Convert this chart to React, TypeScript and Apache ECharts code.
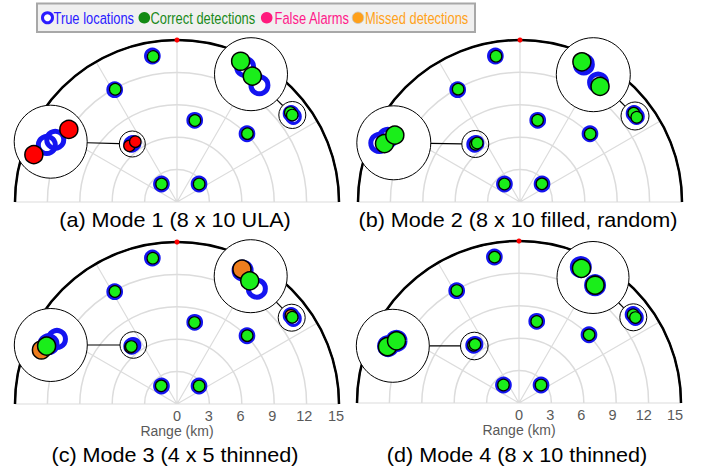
import React, { useEffect, useRef } from 'react';
import * as echarts from 'echarts';

// ---------------- DATA ----------------
const PANEL_TITLES = [
  '(a) Mode 1 (8 x 10 ULA)',
  '(b) Mode 2 (8 x 10 filled, random)',
  '(c) Mode 3 (4 x 5 thinned)',
  '(d) Mode 4 (8 x 10 thinned)',
];
const LEGEND_NAMES = ['True locations', 'Correct detections', 'False Alarms', 'Missed detections'];
const RANGE_TICKS = [0, 3, 6, 9, 12, 15];
const RANGE_MAX = 15;
const AZIMUTH_MIN = -90;
const AZIMUTH_MAX = 90;
const AZIMUTH_STEP = 30;
// reference mark at 0 deg azimuth on the outer ring [range km, azimuth deg]
const BORESIGHT_MARK = [[15, 0]];

// positions are [cross-range km, down-range km]
const TRUE_LOCATIONS = [
  [-2.28, 13.52], [-5.77, 10.40], [1.64, 7.56], [6.48, 6.32], [-1.44, 1.67], [2.04, 1.67],
  [-4.20, 5.35], [-4.07, 5.43], [10.56, 8.19], [10.78, 7.91],
];
const CORRECT_MODE1 = [
  [-2.21, 13.48], [-5.72, 10.44], [1.66, 7.55], [6.52, 6.33], [-1.43, 1.66], [2.05, 1.66],
  [10.49, 8.28], [10.67, 8.05],
];
const FALSE_ALARMS_MODE1 = [[-4.40, 5.20], [-3.86, 5.59]];
const CORRECT_MODE2 = [
  [-2.22, 13.50], [-5.73, 10.45], [1.63, 7.57], [6.50, 6.30], [-1.44, 1.66], [2.03, 1.68],
  [-4.12, 5.34], [-3.96, 5.47], [10.53, 8.23], [10.81, 7.85],
];
const CORRECT_MODE3 = [
  [-2.24, 13.50], [-5.75, 10.42], [1.62, 7.54], [6.50, 6.33], [-1.46, 1.68], [2.05, 1.66],
  [-4.23, 5.32], [10.67, 8.03],
];
const MISSED_MODE3 = [[-4.31, 5.26], [10.55, 8.21]];
const CORRECT_MODE4 = [
  [-2.26, 13.51], [-5.76, 10.41], [1.64, 7.55], [6.49, 6.31], [-1.44, 1.67], [2.04, 1.66],
  [-4.21, 5.34], [-4.07, 5.43], [10.57, 8.17], [10.78, 7.91],
];

const MODE_CORRECT = [CORRECT_MODE1, CORRECT_MODE2, CORRECT_MODE3, CORRECT_MODE4];
const MODE_FALSE = [FALSE_ALARMS_MODE1, [], [], []];
const MODE_MISSED = [[], [], MISSED_MODE3, []];

// ---------------- LAYOUT / STYLE ----------------
const POLAR_RADIUS_PX = 162;
const INSET_PX_PER_KM = 64.8;
const LAYOUT = [
  {
    cx: 177, cy: 202, titleY: 220, rangeHalfPx: 0,
    insets: [
      { bx: 50.7, by: 141.7, R: 36.5, sx: 132.3, sy: 144, r: 13, kmX: -4.14, kmY: 5.4 },
      { bx: 251, by: 74.2, R: 36.5, sx: 292.3, sy: 115, r: 13.5, kmX: 10.65, kmY: 8.08 },
    ],
  },
  {
    cx: 520, cy: 202, titleY: 220, rangeHalfPx: 0,
    insets: [
      { bx: 393.8, by: 142.8, R: 37, sx: 475.3, sy: 144, r: 13.5, kmX: -3.976, kmY: 5.352 },
      { bx: 593.3, by: 74.7, R: 37, sx: 635, sy: 116, r: 14, kmX: 10.706, kmY: 8.031 },
    ],
  },
  {
    cx: 177, cy: 404, titleY: 455, rangeHalfPx: 159,
    insets: [
      { bx: 50.8, by: 345, R: 36.5, sx: 133.3, sy: 345, r: 13.3, kmX: -4.165, kmY: 5.337 },
      { bx: 250.7, by: 276.2, R: 36.5, sx: 291.7, sy: 317.7, r: 13.5, kmX: 10.685, kmY: 8.102 },
    ],
  },
  {
    cx: 519, cy: 403, titleY: 455, rangeHalfPx: 156,
    insets: [
      { bx: 392.8, by: 345.8, R: 36.5, sx: 474.3, sy: 346, r: 13.8, kmX: -4.127, kmY: 5.354 },
      { bx: 593, by: 277.5, R: 36, sx: 633.3, sy: 317.3, r: 13.5, kmX: 10.748, kmY: 8.029 },
    ],
  },
];

const LEGEND_BOX = { x: 37, y: 3.5, w: 438, h: 28.5 };
const LEGEND_ITEMS = [
  { icon: 47.5, text: 53.5, fill: '#fff', stroke: '#2a1bff', lw: 3, color: '#2a1bff' },
  { icon: 144.3, text: 150.5, fill: '#138a13', stroke: 'none', lw: 0, color: '#1a8a1a' },
  { icon: 266.7, text: 274.5, fill: '#ff1a7d', stroke: 'none', lw: 0, color: '#ff1a8a' },
  { icon: 358, text: 365, fill: '#ffa01a', stroke: '#c8c8c8', lw: 0.8, color: '#ffa21a' },
];

const C_BLUE = '#1414f0';
const C_GREEN = '#1aee1a';
const C_RED = '#ff0000';
const C_ORANGE = '#ee7d1e';
const FONT = "'Liberation Sans', Arial, sans-serif";

const toPolar = (p: number[]) => {
  const r = Math.hypot(p[0], p[1]);
  const az = (Math.atan2(p[0], p[1]) * 180) / Math.PI;
  return [r, az];
};

function buildOption() {
  const polar: any[] = [];
  const angleAxis: any[] = [];
  const radiusAxis: any[] = [];
  const grid: any[] = [];
  const xAxis: any[] = [];
  const yAxis: any[] = [];
  const series: any[] = [];
  const graphic: any[] = [];

  LAYOUT.forEach((p, i) => {
    polar.push({ center: [p.cx, p.cy], radius: POLAR_RADIUS_PX });
    angleAxis.push({
      polarIndex: i, type: 'value', min: AZIMUTH_MIN, max: AZIMUTH_MAX, interval: AZIMUTH_STEP,
      startAngle: 180, endAngle: 0, clockwise: true,
      axisLine: { show: true, lineStyle: { color: '#000', width: 2.5 } },
      axisTick: { show: false }, axisLabel: { show: false },
      splitLine: { show: true, lineStyle: { color: '#dcdcdc', width: 1.2 } },
    });
    radiusAxis.push({
      polarIndex: i, type: 'value', min: 0, max: RANGE_MAX, interval: 3,
      axisLine: { show: false }, axisTick: { show: false }, axisLabel: { show: false },
      splitLine: { show: true, lineStyle: { color: ['#dcdcdc', '#dcdcdc', '#dcdcdc', '#dcdcdc', '#dcdcdc', '#000'], width: 1.5 } },
    });

    // main polar series
    series.push({
      name: LEGEND_NAMES[0], type: 'scatter', coordinateSystem: 'polar', polarIndex: i,
      data: TRUE_LOCATIONS.map(toPolar), symbolSize: 13.7,
      itemStyle: { color: 'rgba(255,255,255,0)', borderColor: C_BLUE, borderWidth: 3, opacity: 1 },
      silent: true,
    });
    if (MODE_MISSED[i].length) series.push({
      name: LEGEND_NAMES[3], type: 'scatter', coordinateSystem: 'polar', polarIndex: i,
      data: MODE_MISSED[i].map(toPolar), symbolSize: 11.5,
      itemStyle: { color: C_ORANGE, borderColor: '#000', borderWidth: 1.2, opacity: 1 }, silent: true,
    });
    if (MODE_FALSE[i].length) series.push({
      name: LEGEND_NAMES[2], type: 'scatter', coordinateSystem: 'polar', polarIndex: i,
      data: MODE_FALSE[i].map(toPolar), symbolSize: 11.5,
      itemStyle: { color: C_RED, borderColor: '#000', borderWidth: 1.2, opacity: 1 }, silent: true,
    });
    series.push({
      name: LEGEND_NAMES[1], type: 'scatter', coordinateSystem: 'polar', polarIndex: i,
      data: MODE_CORRECT[i].map(toPolar), symbolSize: 11.5,
      itemStyle: { color: C_GREEN, borderColor: '#000', borderWidth: 1.2, opacity: 1 }, silent: true,
    });
    series.push({
      name: 'boresight', type: 'scatter', coordinateSystem: 'polar', polarIndex: i,
      data: BORESIGHT_MARK, symbolSize: 5, itemStyle: { color: '#ff0000', opacity: 1 }, silent: true, z: 5,
    });

    // range labels
    if (p.rangeHalfPx) {
      const gi = grid.length;
      grid.push({ left: p.cx - p.rangeHalfPx, top: p.cy - 1, width: 2 * p.rangeHalfPx, height: 1 });
      xAxis.push({
        gridIndex: gi, type: 'value', min: -RANGE_MAX, max: RANGE_MAX, interval: 3,
        axisLine: { show: false }, axisTick: { show: false }, splitLine: { show: false },
        axisLabel: {
          margin: 4, color: '#595959', fontSize: 14.5, fontFamily: FONT,
          formatter: (v: number) => (RANGE_TICKS.indexOf(v) >= 0 ? String(v) : ''),
        },
        name: 'Range (km)', nameLocation: 'middle', nameGap: 19,
        nameTextStyle: { color: '#595959', fontSize: 14, fontFamily: FONT },
      });
      yAxis.push({ gridIndex: gi, type: 'value', show: false });
    }

    // title
    graphic.push({
      type: 'text', x: p.cx - 2, y: p.titleY, z: 30, scaleX: 1.08,
      style: {
        x: 0, y: 0, text: PANEL_TITLES[i], fill: '#000', fontSize: 20, fontFamily: FONT,
        align: 'center', verticalAlign: 'middle', textAlign: 'center', textVerticalAlign: 'middle',
      },
    });

    // insets
    p.insets.forEach((ins) => {
      const half = ins.R / INSET_PX_PER_KM;
      const gi = grid.length;
      grid.push({ left: ins.bx - ins.R, top: ins.by - ins.R, width: 2 * ins.R, height: 2 * ins.R });
      xAxis.push({ gridIndex: gi, type: 'value', min: ins.kmX - half, max: ins.kmX + half, show: false });
      yAxis.push({ gridIndex: gi, type: 'value', min: ins.kmY - half, max: ins.kmY + half, show: false });
      series.push({
        name: LEGEND_NAMES[0], type: 'scatter', xAxisIndex: gi, yAxisIndex: gi, z: 20,
        data: TRUE_LOCATIONS, symbolSize: 17,
        itemStyle: { color: 'rgba(255,255,255,0)', borderColor: C_BLUE, borderWidth: 5, opacity: 1 }, silent: true,
      });
      if (MODE_MISSED[i].length) series.push({
        name: LEGEND_NAMES[3], type: 'scatter', xAxisIndex: gi, yAxisIndex: gi, z: 20,
        data: MODE_MISSED[i], symbolSize: 18,
        itemStyle: { color: C_ORANGE, borderColor: '#000', borderWidth: 1.5, opacity: 1 }, silent: true,
      });
      if (MODE_FALSE[i].length) series.push({
        name: LEGEND_NAMES[2], type: 'scatter', xAxisIndex: gi, yAxisIndex: gi, z: 20,
        data: MODE_FALSE[i], symbolSize: 18,
        itemStyle: { color: C_RED, borderColor: '#000', borderWidth: 1.5, opacity: 1 }, silent: true,
      });
      series.push({
        name: LEGEND_NAMES[1], type: 'scatter', xAxisIndex: gi, yAxisIndex: gi, z: 20,
        data: MODE_CORRECT[i], symbolSize: 18,
        itemStyle: { color: C_GREEN, borderColor: '#000', borderWidth: 1.5, opacity: 1 }, silent: true,
      });

      const dx = ins.sx - ins.bx;
      const dy = ins.sy - ins.by;
      const len = Math.hypot(dx, dy);
      const ux = dx / len;
      const uy = dy / len;
      graphic.push({
        type: 'circle', z: 10, shape: { cx: ins.bx, cy: ins.by, r: ins.R },
        style: { fill: '#fff', stroke: '#000', lineWidth: 1 }, silent: true,
      });
      graphic.push({
        type: 'circle', z: 10, shape: { cx: ins.sx, cy: ins.sy, r: ins.r },
        style: { fill: 'rgba(255,255,255,0)', stroke: '#000', lineWidth: 1 }, silent: true,
      });
      graphic.push({
        type: 'line', z: 10,
        shape: { x1: ins.bx + ux * ins.R, y1: ins.by + uy * ins.R, x2: ins.sx - ux * ins.r, y2: ins.sy - uy * ins.r },
        style: { stroke: '#000', lineWidth: 1.2 }, silent: true,
      });
    });
  });

  // legend box
  const legendChildren: any[] = [
    {
      type: 'rect', shape: { x: LEGEND_BOX.x, y: LEGEND_BOX.y, width: LEGEND_BOX.w, height: LEGEND_BOX.h },
      style: { fill: '#f0f0f0', stroke: '#a8a8a8', lineWidth: 2 },
    },
  ];
  const midY = LEGEND_BOX.y + LEGEND_BOX.h / 2;
  LEGEND_ITEMS.forEach((it, k) => {
    legendChildren.push({
      type: 'circle', shape: { cx: it.icon, cy: midY, r: it.lw === 3 ? 5 : 5.8 },
      style: { fill: it.fill, stroke: it.stroke, lineWidth: it.lw },
    });
    legendChildren.push({
      type: 'text', x: it.text, y: midY, scaleX: 0.76,
      style: {
        x: 0, y: 0, text: LEGEND_NAMES[k], fill: it.color, fontSize: 17, fontFamily: FONT,
        align: 'left', verticalAlign: 'middle', textAlign: 'left', textVerticalAlign: 'middle',
      },
    });
  });
  graphic.push({ type: 'group', z: 40, children: legendChildren, silent: true });

  return {
    animation: false,
    backgroundColor: '#fff',
    polar, angleAxis, radiusAxis, grid, xAxis, yAxis, series, graphic,
  };
}

export default function App() {
  const ref = useRef<HTMLDivElement>(null);
  useEffect(() => {
    document.body.style.margin = '0';
    const chart = echarts.init(ref.current as HTMLDivElement, null, { renderer: 'svg' });
    chart.setOption(buildOption() as any);
    return () => chart.dispose();
  }, []);
  return <div ref={ref} style={{ width: 711, height: 468, background: '#fff' }} />;
}
